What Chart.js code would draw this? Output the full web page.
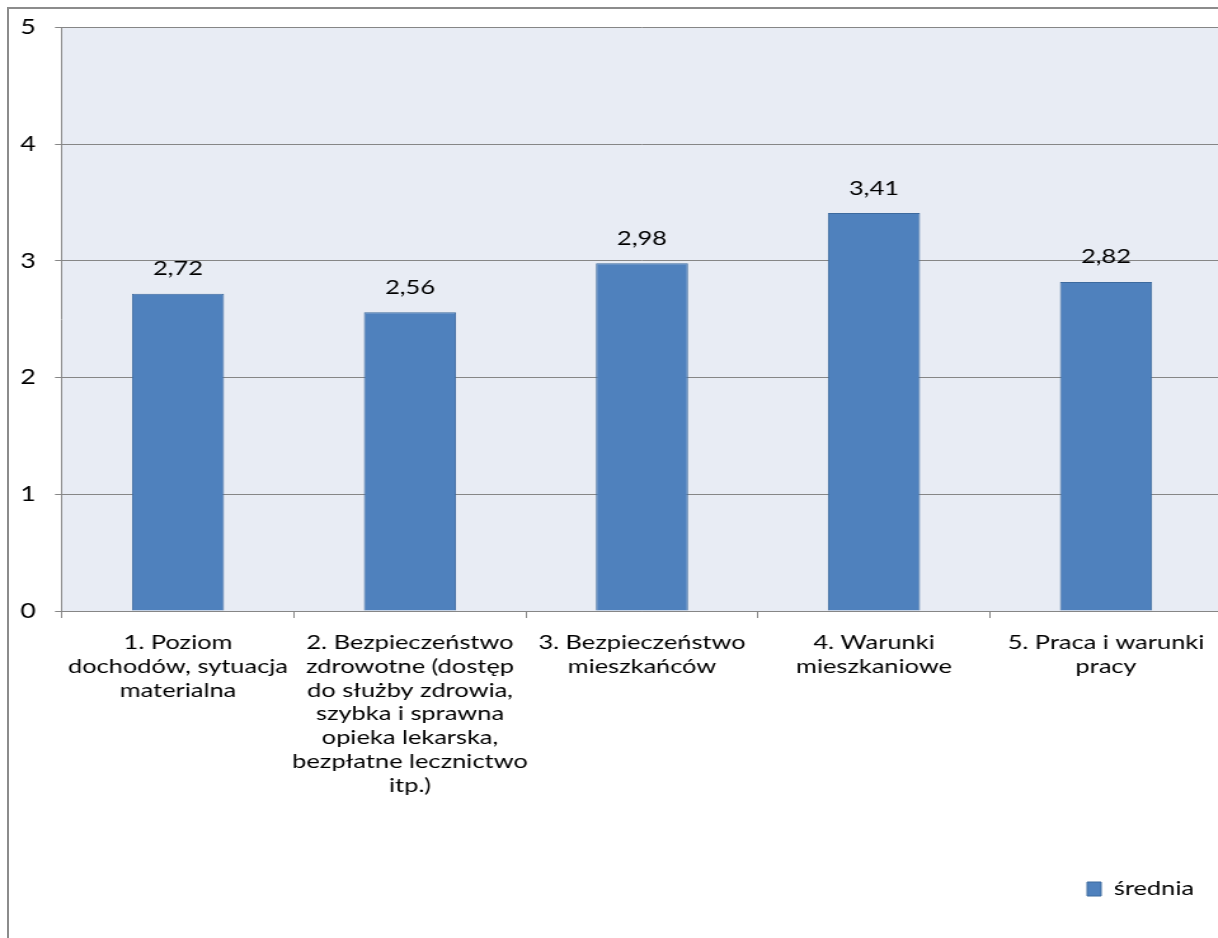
<!DOCTYPE html>
<html lang="pl">
<head>
    <meta charset="UTF-8">
    <title>Średnia ocena</title>
    <script src="https://cdn.jsdelivr.net/npm/chart.js"></script>
    <style>
        html, body { margin: 0; padding: 0; background: #fff; overflow: hidden; }
        #frame { position: absolute; left: 7px; top: 7px; width: 1300px; height: 1000px; border-left: 2px solid #8c8c8c; border-top: 2px solid #8c8c8c; }
        /* oryginał jest rozciągnięty w poziomie */
        #wrap { position: absolute; left: 0; top: 0; transform: scaleX(1.27); transform-origin: 0 0; }
    </style>
</head>
<body>

<div id="frame"></div>
<div id="wrap">
    <canvas id="myChart" width="964" height="938"></canvas>
</div>

<script>
// dane wykresu
const kategorie = [
    ['1. Poziom', 'dochodów, sytuacja', 'materialna'],
    ['2. Bezpieczeństwo', 'zdrowotne (dostęp', 'do służby zdrowia,', 'szybka i sprawna', 'opieka lekarska,', 'bezpłatne lecznictwo', 'itp.)'],
    ['3. Bezpieczeństwo', 'mieszkańców'],
    ['4. Warunki', 'mieszkaniowe'],
    ['5. Praca i warunki', 'pracy']
];
const srednia = [2.72, 2.56, 2.98, 3.41, 2.82];
const nazwaSerii = 'średnia';
const osY = [0, 1, 2, 3, 4, 5];

const czcionka = 'Lato, Carlito, Calibri, sans-serif';

// tło obszaru wykresu
const tloWykresu = {
    id: 'tloWykresu',
    beforeDraw(chart) {
        const { ctx, chartArea: a } = chart;
        ctx.save();
        ctx.fillStyle = '#e8ecf4';
        ctx.fillRect(a.left, a.top, a.right - a.left, a.bottom - a.top);
        ctx.restore();
    }
};

// etykiety wartości nad słupkami
const etykiety = {
    id: 'etykiety',
    afterDatasetsDraw(chart) {
        const ctx = chart.ctx;
        const meta = chart.getDatasetMeta(0);
        ctx.save();
        ctx.fillStyle = '#000';
        ctx.font = '20px ' + czcionka;
        ctx.textAlign = 'center';
        ctx.textBaseline = 'middle';
        meta.data.forEach((bar, i) => {
            const txt = srednia[i].toFixed(2).replace('.', ',');
            ctx.fillText(txt, bar.x, bar.y - 25);
        });
        ctx.restore();
    }
};

const ctx = document.getElementById('myChart').getContext('2d');
const myChart = new Chart(ctx, {
    type: 'bar',
    data: {
        labels: kategorie,
        datasets: [{
            label: nazwaSerii,
            data: srednia,
            backgroundColor: '#4f81bd',
            borderColor: '#3d6a9e',
            borderWidth: 1,
            barPercentage: 0.397,
            categoryPercentage: 1
        }]
    },
    options: {
        responsive: false,
        animation: false,
        layout: { padding: { left: 0, right: 1.8, top: 22, bottom: 29 } },
        scales: {
            x: {
                grid: { drawOnChartArea: false, drawTicks: true, tickLength: 7, color: '#868686' },
                border: { display: true, color: '#868686' },
                ticks: { color: '#000', font: { family: czcionka, size: 20, lineHeight: 1.185 }, padding: 13, maxRotation: 0, autoSkip: false },
                afterFit(scale) { scale.height = 246; }
            },
            y: {
                min: 0,
                max: 5,
                afterBuildTicks(scale) { scale.ticks = osY.map(v => ({ value: v })); },
                grid: { color: '#868686', tickLength: 5.5 },
                border: { display: true, color: '#868686' },
                ticks: { color: '#000', font: { family: czcionka, size: 21 }, padding: 15 },
                afterFit(scale) { scale.width = 48.8; }
            }
        },
        plugins: {
            legend: {
                display: true,
                position: 'bottom',
                align: 'end',
                labels: {
                    color: '#000',
                    font: { family: czcionka, size: 20 },
                    boxWidth: 11,
                    boxHeight: 14,
                    padding: 22
                }
            },
            tooltip: { enabled: false }
        }
    },
    plugins: [tloWykresu, etykiety]
});
</script>

</body>
</html>
